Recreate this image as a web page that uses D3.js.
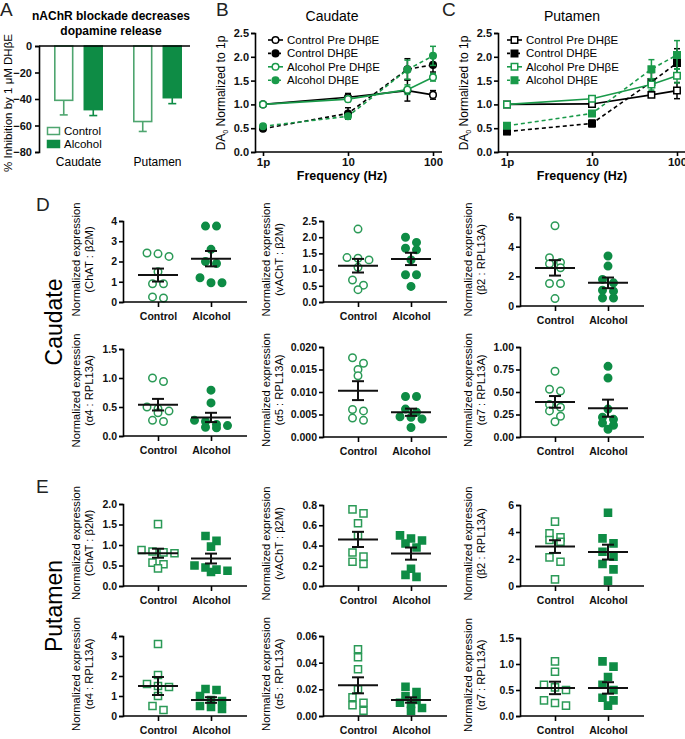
<!DOCTYPE html>
<html>
<head>
<meta charset="utf-8">
<script src="https://cdn.jsdelivr.net/npm/d3@7"></script>
<style>
body { margin: 0; background: #fff; }
text { font-family: "Liberation Sans", Arial, sans-serif; }
</style>
</head>
<body>
<svg width="685" height="739"></svg>
<script>
// ---- panel A data
var regions = ["Caudate", "Putamen"];
var groups = ["Control", "Alcohol"];
var inhibCtrl = [-41, -57];
var inhibAlc = [-48, -39];
var inhibCtrlErr = [11, 7.5];
var inhibAlcErr = [4.5, 4.5];
var inhibTicks = [0, -20, -40, -60, -80];

// ---- panels B, C data
var freqs = [1, 10, 50, 100];
var freqTicks = [1, 10, 100];
var daTicks = [0, 0.5, 1, 1.5, 2, 2.5];
var seriesNames = ["Control Pre DH\u03b2E", "Control DH\u03b2E", "Alcohol Pre DH\u03b2E", "Alcohol DH\u03b2E"];

var caudCtrlPre = [1.0, 1.15, 1.29, 1.2];
var caudCtrlPreErr = [0, 0.08, 0.22, 0.09];
var caudCtrlDh = [0.49, 0.81, 1.74, 1.83];
var caudCtrlDhErr = [0.03, 0.12, 0.22, 0.15];
var caudAlcPre = [1.0, 1.11, 1.31, 1.57];
var caudAlcPreErr = [0, 0.05, 0.1, 0.08];
var caudAlcDh = [0.54, 0.75, 1.73, 2.02];
var caudAlcDhErr = [0.03, 0.05, 0.2, 0.2];

var putCtrlPre = [1.0, 1.01, 1.2, 1.29];
var putCtrlPreErr = [0, 0.05, 0.05, 0.17];
var putCtrlDh = [0.43, 0.6, 1.47, 1.87];
var putCtrlDhErr = [0.06, 0.07, 0.2, 0.3];
var putAlcPre = [1.0, 1.12, 1.42, 1.6];
var putAlcPreErr = [0, 0.05, 0.12, 0.15];
var putAlcDh = [0.55, 0.81, 1.74, 2.04];
var putAlcDhErr = [0.04, 0.05, 0.2, 0.3];

// ---- panels D, E data (Control, Alcohol)
var chatCaudCtrl = [2.38, 2.25, 2.42, 1.5, 0.9, 0.9, 0.2, 0.25];
var chatCaudAlc = [3.75, 3.75, 2.6, 2.0, 1.9, 1.2, 0.95, 0.95];
var chatCaudMean = [1.33, 2.14], chatCaudSem = [0.32, 0.38];
var vachtCaudCtrl = [2.25, 1.37, 1.3, 1.35, 1.07, 0.68, 0.52, 0.38];
var vachtCaudAlc = [2.0, 1.84, 1.66, 1.61, 1.3, 0.84, 0.84, 0.48];
var vachtCaudMean = [1.12, 1.33], vachtCaudSem = [0.21, 0.19];
var b2CaudCtrl = [5.41, 3.26, 2.94, 2.85, 2.58, 1.52, 1.52, 0.5];
var b2CaudAlc = [3.37, 2.69, 1.79, 1.56, 1.0, 1.06, 0.54, 0.54];
var b2CaudMean = [2.57, 1.56], b2CaudSem = [0.52, 0.36];
var a4CaudCtrl = [1.0, 0.94, 0.5, 0.47, 0.43, 0.4, 0.27, 0.25];
var a4CaudAlc = [0.79, 0.57, 0.27, 0.25, 0.2, 0.18, 0.15, 0.14];
var a4CaudMean = [0.54, 0.32], a4CaudSem = [0.1, 0.08];
var a5CaudCtrl = [0.0176, 0.0164, 0.015, 0.0136, 0.0058, 0.0061, 0.0042, 0.0037];
var a5CaudAlc = [0.009, 0.009, 0.0062, 0.0055, 0.0045, 0.0044, 0.004, 0.0021];
var a5CaudMean = [0.0103, 0.0055], a5CaudSem = [0.0021, 0.0008];
var a7CaudCtrl = [0.73, 0.51, 0.53, 0.36, 0.29, 0.33, 0.23, 0.17];
var a7CaudAlc = [0.785, 0.656, 0.31, 0.22, 0.196, 0.156, 0.13, 0.085];
var a7CaudMean = [0.39, 0.32], a7CaudSem = [0.065, 0.095];

var chatPutCtrl = [1.51, 0.88, 0.84, 0.82, 0.8, 0.57, 0.53, 0.43];
var chatPutAlc = [1.22, 1.1, 0.96, 0.5, 0.45, 0.4, 0.37, 0.34];
var chatPutMean = [0.8, 0.67], chatPutSem = [0.11, 0.12];
var vachtPutCtrl = [0.757, 0.717, 0.62, 0.5, 0.33, 0.29, 0.24, 0.217];
var vachtPutAlc = [0.5, 0.47, 0.45, 0.42, 0.38, 0.17, 0.11, 0.09];
var vachtPutMean = [0.46, 0.32], vachtPutSem = [0.075, 0.06];
var b2PutCtrl = [4.77, 3.9, 3.6, 3.41, 3.28, 2.12, 1.8, 0.49];
var b2PutAlc = [5.43, 3.53, 3.16, 2.54, 2.17, 1.63, 1.23, 0.4];
var b2PutMean = [2.92, 2.51], b2PutSem = [0.47, 0.55];
var a4PutCtrl = [3.6, 2.05, 1.6, 1.5, 1.45, 1.0, 0.5, 0.3];
var a4PutAlc = [1.35, 1.3, 1.0, 0.8, 0.75, 0.5, 0.45, 0.35];
var a4PutMean = [1.5, 0.8], a4PutSem = [0.45, 0.14];
var a5PutCtrl = [0.05, 0.044, 0.035, 0.02, 0.014, 0.01, 0.008, 0.004];
var a5PutAlc = [0.022, 0.018, 0.015, 0.012, 0.01, 0.009, 0.006, 0.004];
var a5PutMean = [0.023, 0.012], a5PutSem = [0.006, 0.002];
var a7PutCtrl = [1.05, 0.85, 0.6, 0.55, 0.5, 0.3, 0.25, 0.2];
var a7PutAlc = [1.05, 0.95, 0.75, 0.6, 0.5, 0.35, 0.3, 0.2];
var a7PutMean = [0.54, 0.54], a7PutSem = [0.12, 0.11];

var ticks4 = [0, 1, 2, 3, 4];
var ticks25 = [0, 0.5, 1, 1.5, 2, 2.5];
var ticks6 = [0, 2, 4, 6];
var ticks15 = [0, 0.5, 1, 1.5];
var ticks020 = [0, 0.005, 0.01, 0.015, 0.02];
var ticks100 = [0, 0.25, 0.5, 0.75, 1];
var ticks20 = [0, 0.5, 1, 1.5, 2];
var ticks08 = [0, 0.2, 0.4, 0.6, 0.8];
var ticks06 = [0, 0.02, 0.04, 0.06];

var green = "#0e8c45";
var greenLight = "#2b9a57";
var barLight = "#4ea56f";
var lineGreen = "#1a9a4a";

var svg = d3.select("svg");

var styleAxis = function(g, size) {
    g.select(".domain").attr("stroke-width", 1.6);
    g.selectAll(".tick line").attr("stroke-width", 1.6);
    g.selectAll(".tick text")
        .attr("font-size", size || 10.5)
        .attr("font-weight", "bold")
        .attr("fill", "#111");
};

var panelLabel = function(t, x, y) {
    svg.append("text").attr("x", x).attr("y", y)
        .attr("font-size", 19).attr("fill", "#222").text(t);
};

// ================= Panel A
var drawA = function() {
    var g = svg.append("g").attr("id", "panelA");
    var xA = d3.scaleBand().domain(regions).range([39, 197]);
    var xIn = d3.scaleBand().domain(groups).range([15, 64]).paddingInner(0.34);
    var yA = d3.scaleLinear().domain([-80, 0]).range([152, 46]);

    var rows = [];
    regions.forEach(function(r, i) {
        rows.push({region: r, group: "Control", v: inhibCtrl[i], e: inhibCtrlErr[i]});
        rows.push({region: r, group: "Alcohol", v: inhibAlc[i], e: inhibAlcErr[i]});
    });

    // error bars (below bars)
    rows.forEach(function(d) {
        var cx = xA(d.region) + xIn(d.group) + xIn.bandwidth() / 2;
        var col = d.group == "Control" ? barLight : green;
        g.append("line").attr("x1", cx).attr("x2", cx)
            .attr("y1", yA(d.v)).attr("y2", yA(d.v - d.e))
            .attr("stroke", col).attr("stroke-width", 1.6);
        g.append("line").attr("x1", cx - 4).attr("x2", cx + 4)
            .attr("y1", yA(d.v - d.e)).attr("y2", yA(d.v - d.e))
            .attr("stroke", col).attr("stroke-width", 1.6);
    });

    g.selectAll("rect.bar").data(rows).enter().append("rect")
        .attr("class", "bar")
        .attr("x", function(d) { return xA(d.region) + xIn(d.group) + 0.8; })
        .attr("width", xIn.bandwidth() - 1.6)
        .attr("y", yA(0))
        .attr("height", function(d) { return yA(d.v) - yA(0); })
        .attr("fill", function(d) { return d.group == "Control" ? "#fff" : green; })
        .attr("stroke", function(d) { return d.group == "Control" ? barLight : green; })
        .attr("stroke-width", 1.6);

    var ax = g.append("g").attr("transform", "translate(39,0)")
        .call(d3.axisLeft(yA).tickValues(inhibTicks).tickSize(4).tickPadding(3));
    styleAxis(ax, 11);

    g.append("line").attr("x1", 39).attr("x2", 190)
        .attr("y1", yA(0)).attr("y2", yA(0))
        .attr("stroke", "#000").attr("stroke-width", 1.6);

    regions.forEach(function(r) {
        g.append("text").attr("x", xA(r) + xA.bandwidth() / 2).attr("y", 166)
            .attr("text-anchor", "middle").attr("font-size", 12).text(r);
    });

    g.append("text").attr("x", 111).attr("y", 20).attr("text-anchor", "middle")
        .attr("font-size", 12).attr("font-weight", "bold").text("nAChR blockade decreases");
    g.append("text").attr("x", 111).attr("y", 35).attr("text-anchor", "middle")
        .attr("font-size", 12).attr("font-weight", "bold").text("dopamine release");

    g.append("text").attr("transform", "translate(12,103) rotate(-90)")
        .attr("text-anchor", "middle").attr("font-size", 11.5)
        .text("% Inhibition by 1 \u03bcM DH\u03b2E");

    // legend
    groups.forEach(function(gr, i) {
        g.append("rect").attr("x", 47.5).attr("y", 127.5 + i * 13).attr("width", 12).attr("height", 7)
            .attr("fill", gr == "Control" ? "#fff" : green)
            .attr("stroke", gr == "Control" ? barLight : green).attr("stroke-width", 1.5);
        g.append("text").attr("x", 64).attr("y", 135 + i * 13).attr("font-size", 11.5).text(gr);
    });
    panelLabel("A", 0, 16);
};

// ================= Panels B, C
var drawFreq = function(cfg) {
    var g = svg.append("g");
    var x = d3.scaleLog().domain([1, 100]).range([cfg.x0, cfg.x1]);
    var y = d3.scaleLinear().domain([0, 2.5]).range([152, 33]);
    var shape = cfg.square ? d3.symbolSquare : d3.symbolCircle;
    var sym = d3.symbol().type(shape).size(cfg.square ? 42 : 34);

    var series = [
        {name: seriesNames[0], vals: cfg.data[0], err: cfg.data[1], color: "#000", fill: false, dash: null},
        {name: seriesNames[1], vals: cfg.data[2], err: cfg.data[3], color: "#000", fill: true, dash: "4,3"},
        {name: seriesNames[2], vals: cfg.data[4], err: cfg.data[5], color: lineGreen, fill: false, dash: null},
        {name: seriesNames[3], vals: cfg.data[6], err: cfg.data[7], color: lineGreen, fill: true, dash: "4,3"}
    ];

    var line = d3.line().x(function(d) { return x(d[0]); }).y(function(d) { return y(d[1]); });

    series.forEach(function(s) {
        var pts = freqs.map(function(f, i) { return [f, s.vals[i], s.err[i]]; });
        pts.forEach(function(p) {
            if (p[2] <= 0) return;
            g.append("line").attr("x1", x(p[0])).attr("x2", x(p[0]))
                .attr("y1", y(p[1] - p[2])).attr("y2", y(p[1] + p[2]))
                .attr("stroke", s.color).attr("stroke-width", 1.5);
            [p[1] - p[2], p[1] + p[2]].forEach(function(v) {
                g.append("line").attr("x1", x(p[0]) - 3).attr("x2", x(p[0]) + 3)
                    .attr("y1", y(v)).attr("y2", y(v))
                    .attr("stroke", s.color).attr("stroke-width", 1.5);
            });
        });
        g.append("path").datum(pts)
            .attr("fill", "none").attr("stroke", s.color).attr("stroke-width", 1.6)
            .attr("stroke-dasharray", s.dash)
            .attr("d", line);
        g.selectAll(null).data(pts).enter().append("path")
            .attr("transform", function(d) { return "translate(" + x(d[0]) + "," + y(d[1]) + ")"; })
            .attr("d", sym)
            .attr("fill", s.fill ? s.color : "#fff")
            .attr("stroke", s.color).attr("stroke-width", 1.5);
    });

    var ay = g.append("g").attr("transform", "translate(" + cfg.axisX + ",0)")
        .call(d3.axisLeft(y).tickValues(daTicks).tickFormat(d3.format(".1f")).tickSize(4).tickPadding(2));
    styleAxis(ay, 11);

    var axx = g.append("g").attr("transform", "translate(0,152)")
        .call(d3.axisBottom(x).tickValues(freqTicks)
            .tickFormat(function(d) { return d == 1 ? "1p" : d; }).tickSize(4).tickPadding(2));
    axx.select(".domain").remove();
    styleAxis(axx, 11.5);
    g.append("line").attr("x1", cfg.axisX).attr("x2", cfg.axisEnd).attr("y1", 152).attr("y2", 152)
        .attr("stroke", "#000").attr("stroke-width", 1.6);

    g.append("text").attr("x", cfg.titleX).attr("y", 21).attr("text-anchor", "middle")
        .attr("font-size", 14).text(cfg.title);
    g.append("text").attr("x", cfg.titleX + 10).attr("y", 180).attr("text-anchor", "middle")
        .attr("font-size", 12.5).attr("font-weight", "bold").text("Frequency (Hz)");

    var yl = g.append("text").attr("transform", "translate(" + (cfg.axisX - 30) + ",93) rotate(-90)")
        .attr("text-anchor", "middle").attr("font-size", 12);
    yl.append("tspan").text("DA");
    yl.append("tspan").attr("font-size", 7).attr("dy", 3).text("0");
    yl.append("tspan").attr("dy", -3).text(" Normalized to 1p");

    series.forEach(function(s, i) {
        var ly = 40 + i * 13.4;
        g.append("line").attr("x1", cfg.legX).attr("x2", cfg.legX + 15).attr("y1", ly).attr("y2", ly)
            .attr("stroke", s.color).attr("stroke-width", 1.6).attr("stroke-dasharray", s.dash ? "3,2" : null);
        g.append("path").attr("transform", "translate(" + (cfg.legX + 7.5) + "," + ly + ")")
            .attr("d", sym).attr("fill", s.fill ? s.color : "#fff")
            .attr("stroke", s.color).attr("stroke-width", 1.5);
        g.append("text").attr("x", cfg.legX + 19).attr("y", ly + 4).attr("font-size", 11.5).text(s.name);
    });
};

// ================= Panels D, E
var swarm = function(vals, y, r, spacing) {
    var pts = vals.map(function(v) { return {v: v, py: y(v)}; })
        .sort(function(a, b) { return a.py - b.py; });
    var rows = [], cur = null;
    pts.forEach(function(p) {
        if (cur && p.py - cur[0].py < r && cur.length < 4) cur.push(p);
        else { cur = [p]; rows.push(cur); }
    });
    rows.forEach(function(row) {
        row.forEach(function(p, i) { p.dx = (i - (row.length - 1) / 2) * spacing; });
    });
    return pts;
};

var colAxisX = [123, 323, 520];
var colLabelX = [80, 270, 472];

var drawScatter = function(p) {
    var g = svg.append("g");
    var ax0 = colAxisX[p.col];
    var y = d3.scaleLinear().domain([0, p.ticks[p.ticks.length - 1]]).range([p.bottom, p.top]);
    var x = d3.scalePoint().domain(groups).range([ax0 + 35, ax0 + 88]);
    var sym = d3.symbol().type(p.square ? d3.symbolSquare : d3.symbolCircle).size(p.square ? 50 : 44);

    [p.ctrl, p.alc].forEach(function(vals, gi) {
        var cx = x(groups[gi]);
        var pts = swarm(vals, y, 5.5, 11);
        g.selectAll(null).data(pts).enter().append("path")
            .attr("transform", function(d) { return "translate(" + (cx + d.dx) + "," + d.py + ")"; })
            .attr("d", sym)
            .attr("fill", gi == 0 ? "#fff" : green)
            .attr("stroke", gi == 0 ? greenLight : green)
            .attr("stroke-width", 1.5);
        var m = p.mean[gi], s = p.sem[gi];
        g.append("line").attr("x1", cx - 20).attr("x2", cx + 20).attr("y1", y(m)).attr("y2", y(m))
            .attr("stroke", "#111").attr("stroke-width", 2);
        g.append("line").attr("x1", cx).attr("x2", cx).attr("y1", y(m - s)).attr("y2", y(m + s))
            .attr("stroke", "#111").attr("stroke-width", 2);
        [m - s, m + s].forEach(function(v) {
            g.append("line").attr("x1", cx - 6).attr("x2", cx + 6).attr("y1", y(v)).attr("y2", y(v))
                .attr("stroke", "#111").attr("stroke-width", 2);
        });
    });

    var ay = g.append("g").attr("transform", "translate(" + ax0 + ",0)")
        .call(d3.axisLeft(y).tickValues(p.ticks).tickFormat(d3.format(p.fmt)).tickSize(4).tickPadding(2));
    styleAxis(ay, 10.5);

    var axx = g.append("g").attr("transform", "translate(0," + p.bottom + ")")
        .call(d3.axisBottom(x).tickSize(5).tickPadding(6));
    axx.select(".domain").remove();
    styleAxis(axx, 10.5);
    g.append("line").attr("x1", ax0).attr("x2", ax0 + 124).attr("y1", p.bottom).attr("y2", p.bottom)
        .attr("stroke", "#000").attr("stroke-width", 1.6);

    var cy = (p.top + p.bottom) / 2 - 2;
    var lx = colLabelX[p.col];
    g.append("text").attr("transform", "translate(" + lx + "," + cy + ") rotate(-90)")
        .attr("text-anchor", "middle").attr("font-size", 11.2).text("Normalized expression");
    g.append("text").attr("transform", "translate(" + (lx + 12.5) + "," + cy + ") rotate(-90)")
        .attr("text-anchor", "middle").attr("font-size", 11.2).text(p.label);
};

drawA();
drawFreq({x0: 263, x1: 433, axisX: 255, axisEnd: 442, title: "Caudate", titleX: 332, legX: 268,
    square: false,
    data: [caudCtrlPre, caudCtrlPreErr, caudCtrlDh, caudCtrlDhErr, caudAlcPre, caudAlcPreErr, caudAlcDh, caudAlcDhErr]});
drawFreq({x0: 507, x1: 677, axisX: 498, axisEnd: 685, title: "Putamen", titleX: 572, legX: 507,
    square: true,
    data: [putCtrlPre, putCtrlPreErr, putCtrlDh, putCtrlDhErr, putAlcPre, putAlcPreErr, putAlcDh, putAlcDhErr]});
panelLabel("B", 216, 16);
panelLabel("C", 442, 16);

var scatterPanels = [
    {col: 0, top: 221, bottom: 302, ticks: ticks4, fmt: "d", label: "(ChAT : \u03b22M)", ctrl: chatCaudCtrl, alc: chatCaudAlc, mean: chatCaudMean, sem: chatCaudSem},
    {col: 1, top: 221, bottom: 302, ticks: ticks25, fmt: ".1f", label: "(vAChT : \u03b22M)", ctrl: vachtCaudCtrl, alc: vachtCaudAlc, mean: vachtCaudMean, sem: vachtCaudSem},
    {col: 2, top: 217, bottom: 306, ticks: ticks6, fmt: "d", label: "(\u03b22 : RPL13A)", ctrl: b2CaudCtrl, alc: b2CaudAlc, mean: b2CaudMean, sem: b2CaudSem},
    {col: 0, top: 349, bottom: 436, ticks: ticks15, fmt: ".1f", label: "(\u03b14 : RPL13A)", ctrl: a4CaudCtrl, alc: a4CaudAlc, mean: a4CaudMean, sem: a4CaudSem},
    {col: 1, top: 347, bottom: 437, ticks: ticks020, fmt: ".3f", label: "(\u03b15 : RPL13A)", ctrl: a5CaudCtrl, alc: a5CaudAlc, mean: a5CaudMean, sem: a5CaudSem},
    {col: 2, top: 347, bottom: 437, ticks: ticks100, fmt: ".2f", label: "(\u03b17 : RPL13A)", ctrl: a7CaudCtrl, alc: a7CaudAlc, mean: a7CaudMean, sem: a7CaudSem},
    {col: 0, top: 504, bottom: 586, ticks: ticks20, fmt: ".1f", label: "(ChAT : \u03b22M)", ctrl: chatPutCtrl, alc: chatPutAlc, mean: chatPutMean, sem: chatPutSem, square: true},
    {col: 1, top: 505, bottom: 586, ticks: ticks08, fmt: ".1f", label: "(vAChT : \u03b22M)", ctrl: vachtPutCtrl, alc: vachtPutAlc, mean: vachtPutMean, sem: vachtPutSem, square: true},
    {col: 2, top: 505, bottom: 586, ticks: ticks6, fmt: "d", label: "(\u03b22 : RPL13A)", ctrl: b2PutCtrl, alc: b2PutAlc, mean: b2PutMean, sem: b2PutSem, square: true},
    {col: 0, top: 636, bottom: 716, ticks: ticks4, fmt: "d", label: "(\u03b14 : RPL13A)", ctrl: a4PutCtrl, alc: a4PutAlc, mean: a4PutMean, sem: a4PutSem, square: true},
    {col: 1, top: 636, bottom: 716, ticks: ticks06, fmt: ".2f", label: "(\u03b15 : RPL13A)", ctrl: a5PutCtrl, alc: a5PutAlc, mean: a5PutMean, sem: a5PutSem, square: true},
    {col: 2, top: 638, bottom: 716, ticks: ticks15, fmt: ".1f", label: "(\u03b17 : RPL13A)", ctrl: a7PutCtrl, alc: a7PutAlc, mean: a7PutMean, sem: a7PutSem, square: true}
];
scatterPanels.forEach(drawScatter);

panelLabel("D", 36, 211);
panelLabel("E", 36, 493);
svg.append("text").attr("transform", "translate(62,322) rotate(-90)")
    .attr("text-anchor", "middle").attr("font-size", 23).text("Caudate");
svg.append("text").attr("transform", "translate(62,606) rotate(-90)")
    .attr("text-anchor", "middle").attr("font-size", 23).text("Putamen");
</script>
</body>
</html>
